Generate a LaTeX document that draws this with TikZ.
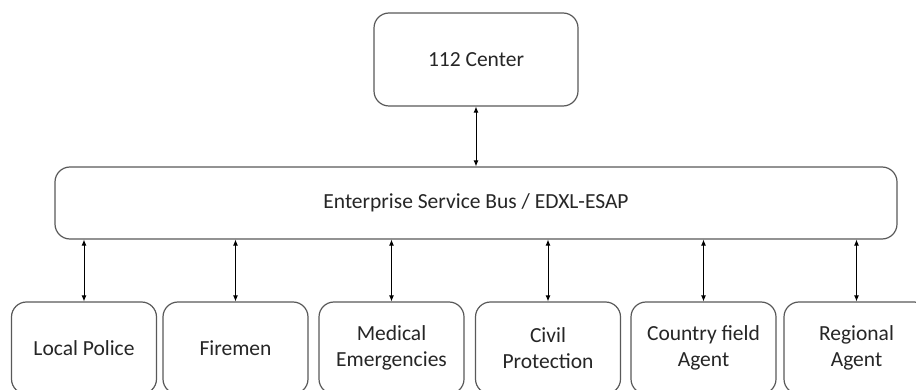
\documentclass[tikz,border=0pt]{standalone}
\usepackage{fontspec}
\setmainfont{Carlito}
\usetikzlibrary{arrows.meta}
\begin{document}
\begin{tikzpicture}[x=1pt,y=-1pt,
  box/.style={draw=black!65, line width=1.2pt, rounded corners=15pt, fill=white,
    minimum width=145pt, minimum height=92pt, align=center, inner sep=0pt,
    font=\fontsize{21.5}{26.5}\selectfont, text=black!85},
  link/.style={line width=0.9pt, {Latex[length=6pt,width=5pt]}-{Latex[length=6pt,width=5pt]}}]
\useasboundingbox (0,0) rectangle (916,390);
\node[box, minimum width=204pt, minimum height=93pt] (c) at (476,59.5) {112 Center};
\node[box, minimum width=842pt, minimum height=72pt] (esb) at (476,203) {Enterprise Service Bus / EDXL-ESAP};
\node[box] (p1) at (84,348) {Local Police};
\node[box] (p2) at (235.5,348) {Firemen};
\node[box] (p3) at (391.5,348) {Medical\\Emergencies};
\node[box] (p4) at (548,348) {Civil\\Protection};
\node[box] (p5) at (703.5,348) {Country field\\Agent};
\node[box] (p6) at (856.5,348) {Regional\\Agent};
\draw[link] (c.south) -- (esb.north);
\foreach \i in {1,...,6} \draw[link] (esb.south -| p\i.north) -- (p\i.north);
\end{tikzpicture}
\end{document}
